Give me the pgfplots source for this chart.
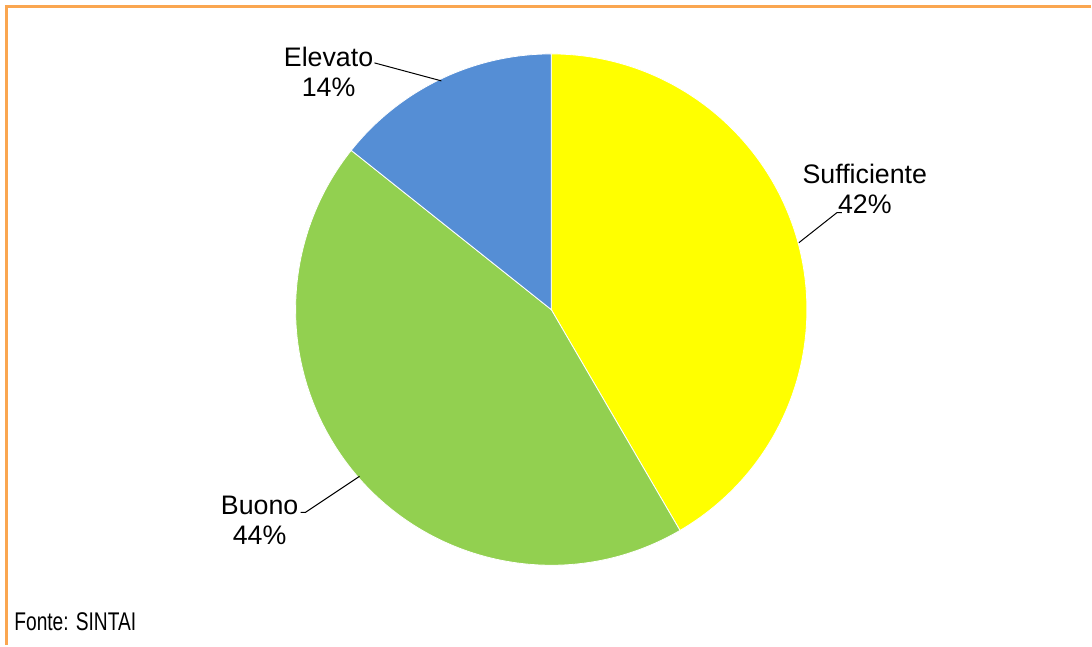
\documentclass[border=0pt]{standalone}
\usepackage{graphicx}
\usepackage{pgfplots}
\pgfplotsset{compat=1.18}
\usepackage{pgfplotstable}
\usepackage{fontspec}
\setmainfont{Liberation Sans}
\definecolor{frameorange}{RGB}{250,166,80}
\definecolor{cSuff}{RGB}{255,255,0}
\definecolor{cBuono}{RGB}{146,208,80}
\definecolor{cElev}{RGB}{85,142,213}

\pgfplotstableread{
label value color
Sufficiente 41.6 cSuff
Buono 44.1 cBuono
Elevato 14.3 cElev
}\piedata

\begin{document}
\begin{tikzpicture}
\begin{axis}[scale only axis, width=546pt, height=323pt,
  xmin=0, xmax=1092, ymin=0, ymax=646, hide axis, clip=false]
\path (axis cs:0,0) rectangle (axis cs:1092,646);
% frame
\draw[frameorange, line width=1.5pt] (axis cs:5,639) -- (axis cs:1092,639);
\draw[frameorange, line width=1.5pt] (axis cs:6.5,640) -- (axis cs:6.5,0);
% pie
\pgfplotstablegetrowsof{\piedata}
\pgfmathtruncatemacro\N{\pgfplotsretval-1}
\def\startangle{90}
\pgfplotsforeachungrouped \i in {0,...,\N} {%
  \pgfplotstablegetelem{\i}{value}\of\piedata \let\v\pgfplotsretval
  \pgfplotstablegetelem{\i}{color}\of\piedata \let\c\pgfplotsretval
  \pgfmathsetmacro\endangle{\startangle - 3.6*\v}%
  \edef\temp{\noexpand\fill[\c, draw=white, line width=0.4pt, line join=round] (axis cs:552,336) -- ++(\startangle:128pt) arc[start angle=\startangle, end angle=\endangle, radius=128pt] -- cycle;}%
  \temp
  \global\let\startangle\endangle
}
% leader lines
\draw[black, line width=0.5pt] (axis cs:375,583) -- (axis cs:442,565);
\draw[black, line width=0.5pt] (axis cs:843,433) -- (axis cs:838,433) -- (axis cs:800,403);
\draw[black, line width=0.5pt] (axis cs:301,133) -- (axis cs:306,133) -- (axis cs:360,169);
% labels
\node[align=center, font=\fontsize{13.4}{15}\selectfont] at (axis cs:329,574) {Elevato\\14\%};
\node[align=center, font=\fontsize{13.4}{15}\selectfont] at (axis cs:866,457) {Sufficiente\\42\%};
\node[align=center, font=\fontsize{13.4}{15}\selectfont] at (axis cs:260,125) {Buono\\44\%};
\node[anchor=base west, inner sep=0pt] at (axis cs:14,15) {\fontsize{12.8}{15}\selectfont\scalebox{0.75}[1]{Fonte: SINTAI}};
\end{axis}
\end{tikzpicture}
\end{document}
